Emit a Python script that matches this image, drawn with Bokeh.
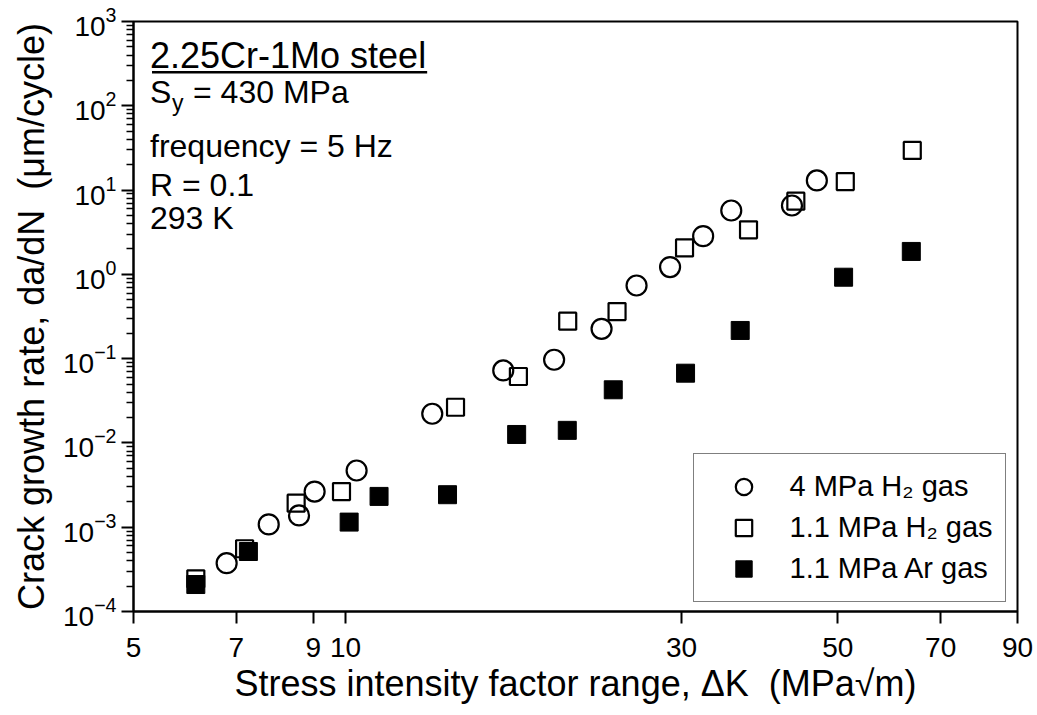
import numpy as np
from bokeh.plotting import figure
from bokeh.models import (FixedTicker, BasicTickFormatter, LogTickFormatter, Label,
                          Legend, LegendItem, BoxAnnotation, Range1d)
from bokeh.embed import file_html
from bokeh.resources import INLINE

# ---------------- data ----------------
dk_h2_4mpa = [6.78, 7.78, 8.59, 9.04, 10.37, 13.28, 16.75, 19.78, 23.1, 25.9, 28.9, 32.2, 35.3, 43.05, 46.7]
dadn_h2_4mpa = [3.74e-4, 1.08e-3, 1.38e-3, 2.65e-3, 4.71e-3, 0.0222, 0.0724, 0.097, 0.226, 0.738,
                1.22, 2.84, 5.72, 6.56, 13.0]

dk_h2_11mpa = [6.13, 7.19, 8.51, 9.87, 14.33, 17.6, 20.68, 24.3, 30.3, 37.35, 43.6, 51.25, 63.8]
dadn_h2_11mpa = [2.44e-4, 5.55e-4, 1.93e-3, 2.65e-3, 0.0265, 0.0614, 0.278, 0.362, 2.06, 3.38,
                 7.38, 12.6, 29.5]

dk_ar = [6.13, 7.28, 10.12, 11.16, 13.96, 17.5, 20.65, 24.0, 30.4, 36.35, 50.97, 63.6]
dadn_ar = [2.09e-4, 5.15e-4, 1.15e-3, 2.32e-3, 2.43e-3, 0.0126, 0.0141, 0.0427, 0.0672, 0.216,
           0.925, 1.87]

series_labels = ["4 MPa H\u2082 gas", "1.1 MPa H\u2082 gas", "1.1 MPa Ar gas"]

x_ticks = [5, 7, 9, 10, 30, 50, 70, 90]
y_ticks = [1e-4, 1e-3, 1e-2, 1e-1, 1e0, 1e1, 1e2, 1e3]
y_minor = [k * d for d in y_ticks[:-1] for k in range(2, 10)]

X0, X1 = 5, 90
Y0, Y1 = 1e-4, 1e3

FONT = "Liberation Sans"

# frame geometry (screen px)
FL, FR, FT, FB = 133.5, 1017, 21, 611


def xd(px):
    return 10 ** (np.log10(X0) + (px - FL) / (FR - FL) * np.log10(X1 / X0))


def yd(py):
    return 10 ** (np.log10(Y1) - (py - FT) / (FB - FT) * np.log10(Y1 / Y0))


p = figure(width=1037, height=715, x_axis_type="log", y_axis_type="log",
           x_range=Range1d(X0, X1), y_range=Range1d(Y0, Y1),
           output_backend="svg", toolbar_location=None,
           min_border_left=int(FL), min_border_right=1037 - FR,
           min_border_top=FT, min_border_bottom=715 - FB)

p.background_fill_color = "white"
p.border_fill_color = "white"
p.xgrid.visible = False
p.ygrid.visible = False
p.outline_line_color = "black"
p.outline_line_width = 2
p.outline_line_alpha = 1

# axes
p.xaxis.ticker = FixedTicker(ticks=x_ticks)
p.xaxis.formatter = BasicTickFormatter()
p.yaxis.ticker = FixedTicker(ticks=y_ticks, minor_ticks=y_minor)
p.yaxis.formatter = LogTickFormatter(min_exponent=0)

for ax in (p.xaxis, p.yaxis):
    ax.axis_line_width = 2
    ax.axis_line_color = "black"
    ax.major_tick_line_width = 2
    ax.major_tick_line_color = "black"
    ax.major_tick_out = 12
    ax.major_tick_in = 0
    ax.minor_tick_line_width = 1.5
    ax.minor_tick_line_color = "black"
    ax.minor_tick_out = 7
    ax.minor_tick_in = 0
    ax.major_label_text_font = FONT
    ax.major_label_text_font_size = "28px"
    ax.major_label_text_color = "black"
    ax.axis_label_text_font = FONT
    ax.axis_label_text_font_size = "36px"
    ax.axis_label_text_font_style = "normal"
    ax.axis_label_text_color = "black"

p.xaxis.major_label_standoff = 14
p.yaxis.major_label_standoff = 5
p.xaxis.axis_label = "Stress intensity factor range, \u0394K\u00a0 (MPa\u221am)"
p.yaxis.axis_label = "Crack growth rate, da/dN\u00a0 (\u03bcm/cycle)"
p.xaxis.axis_label_standoff = 3
p.yaxis.axis_label_standoff = 8

# data
r1 = p.scatter(dk_h2_4mpa, dadn_h2_4mpa, marker="circle", size=20,
               line_color="black", line_width=2.2, fill_color=None)
r2 = p.scatter(dk_h2_11mpa, dadn_h2_11mpa, marker="square", size=17,
               line_color="black", line_width=2.2, fill_color=None)
r3 = p.scatter(dk_ar, dadn_ar, marker="square", size=18,
               line_color="black", line_width=1, fill_color="black")

legend = Legend(items=[LegendItem(label=series_labels[0], renderers=[r1]),
                       LegendItem(label=series_labels[1], renderers=[r2]),
                       LegendItem(label=series_labels[2], renderers=[r3])],
                location=(693 - FL, FB - 602), glyph_width=75, glyph_height=41,
                spacing=0, padding=12, margin=0, label_standoff=9,
                label_height=30,
                label_text_font=FONT, label_text_font_size="29px",
                label_text_color="black",
                border_line_color="black", border_line_width=1.5,
                background_fill_color="white", background_fill_alpha=1)
p.add_layout(legend)

# annotations
ann = dict(text_font=FONT, text_font_size="32px", text_color="black",
           text_baseline="alphabetic", text_align="left")
p.add_layout(Label(x=xd(150), y=yd(55), text="2.25Cr-1Mo steel",
                   text_font=FONT, text_font_size="36px", text_color="black",
                   text_baseline="alphabetic", text_align="left"))
p.add_layout(BoxAnnotation(left=xd(152), right=xd(427), top=yd(70.5), bottom=yd(73),
                           fill_color="black", fill_alpha=1, line_alpha=0))
p.add_layout(Label(x=xd(150), y=yd(91), text="S", **ann))
p.add_layout(Label(x=xd(172), y=yd(102), text="y", text_font=FONT, text_font_size="23px",
                   text_color="black", text_baseline="alphabetic", text_align="left"))
p.add_layout(Label(x=xd(193), y=yd(91), text="= 430 MPa", **ann))
p.add_layout(Label(x=xd(150), y=yd(145), text="frequency = 5 Hz", **ann))
p.add_layout(Label(x=xd(150), y=yd(184), text="R = 0.1", **ann))
p.add_layout(Label(x=xd(150), y=yd(217), text="293 K", **ann))

open("out.html", "w").write(file_html(p, INLINE))
